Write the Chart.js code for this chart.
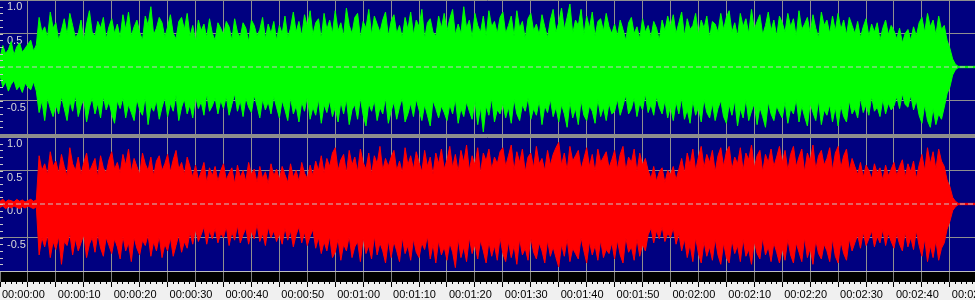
<!DOCTYPE html>
<html>
<head>
<meta charset="utf-8">
<title>Waveform</title>
<script src="https://cdn.jsdelivr.net/npm/chart.js@4.4.1/dist/chart.umd.min.js"></script>
<style>
  html, body { margin: 0; padding: 0; background: #f0f0f0; overflow: hidden; }
  #wrap { width: 975px; height: 300px; }
  canvas { display: block; }
  .panel { background: #000080; }
  .sep { height: 3px; background: #8c8c8c; }
  .ruler-edge { height: 1px; background: #c0c0c0; }
</style>
</head>
<body>
<div id="wrap">
  <canvas id="left-channel" class="panel" width="975" height="134"></canvas>
  <div class="sep"></div>
  <canvas id="right-channel" class="panel" width="975" height="134"></canvas>
  <div class="ruler-edge"></div>
  <canvas id="time-ruler" width="975" height="28"></canvas>
</div>
<script>
// one sample every half second, 0 .. 174.5 s
const SAMPLE_STEP = 0.5;
const DURATION = 174.5;

// left channel (green) peak envelope
const greenMax = [
  0.14, 0.32, 0.2, 0.26, 0.38, 0.18, 0.3, 0.36, 0.22, 0.28, 0.34, 0.4, 0.24, 0.33, 0.74, 0.52, 0.6, 0.44, 0.82, 0.58,
  0.66, 0.4, 0.55, 0.72, 0.48, 0.8, 0.62, 0.44, 0.5, 0.7, 0.38, 0.64, 0.84, 0.52, 0.46, 0.68, 0.58, 0.74, 0.42, 0.6,
  0.72, 0.5, 0.64, 0.44, 0.78, 0.56, 0.82, 0.46, 0.6, 0.7, 0.52, 0.4, 0.76, 0.62, 0.9, 0.48, 0.58, 0.74, 0.66, 0.44,
  0.6, 0.78, 0.5, 0.42, 0.68, 0.74, 0.56, 0.8, 0.46, 0.62, 0.38, 0.7, 0.54, 0.64, 0.44, 0.72, 0.5, 0.4, 0.66, 0.58,
  0.48, 0.68, 0.6, 0.4, 0.72, 0.52, 0.44, 0.66, 0.58, 0.38, 0.7, 0.62, 0.46, 0.56, 0.74, 0.42, 0.64, 0.5, 0.68, 0.4,
  0.62, 0.5, 0.76, 0.44, 0.58, 0.82, 0.52, 0.68, 0.46, 0.78, 0.6, 0.84, 0.48, 0.66, 0.72, 0.42, 0.8, 0.56, 0.7, 0.5,
  0.84, 0.54, 0.66, 0.46, 0.88, 0.62, 0.5, 0.74, 0.8, 0.44, 0.68, 0.58, 0.86, 0.48, 0.76, 0.64, 0.52, 0.7, 0.82, 0.46,
  0.68, 0.78, 0.5, 0.62, 0.44, 0.74, 0.56, 0.82, 0.48, 0.7, 0.6, 0.86, 0.42, 0.66, 0.72, 0.52, 0.46, 0.76, 0.58, 0.8,
  0.54, 0.72, 0.86, 0.48, 0.64, 0.5, 0.9, 0.58, 0.7, 0.44, 0.8, 0.62, 0.52, 0.76, 0.46, 0.84, 0.6, 0.68, 0.5, 0.74,
  0.82, 0.5, 0.62, 0.76, 0.46, 0.84, 0.58, 0.68, 0.42, 0.72, 0.8, 0.54, 0.64, 0.48, 0.78, 0.6, 0.44, 0.7, 0.86, 0.52,
  0.66, 0.88, 0.56, 0.74, 0.94, 0.5, 0.7, 0.62, 0.86, 0.48, 0.76, 0.58, 0.82, 0.46, 0.68, 0.72, 0.54, 0.8, 0.6, 0.5,
  0.64, 0.46, 0.7, 0.56, 0.4, 0.66, 0.74, 0.5, 0.6, 0.42, 0.72, 0.52, 0.62, 0.44, 0.68, 0.58, 0.4, 0.7, 0.54, 0.76,
  0.6, 0.78, 0.5, 0.66, 0.82, 0.46, 0.72, 0.56, 0.62, 0.8, 0.48, 0.7, 0.58, 0.76, 0.44, 0.68, 0.64, 0.52, 0.8, 0.56,
  0.74, 0.84, 0.52, 0.66, 0.46, 0.8, 0.6, 0.72, 0.5, 0.86, 0.56, 0.68, 0.78, 0.48, 0.62, 0.82, 0.54, 0.7, 0.46, 0.76,
  0.66, 0.52, 0.8, 0.6, 0.72, 0.46, 0.84, 0.56, 0.64, 0.74, 0.5, 0.78, 0.58, 0.44, 0.82, 0.62, 0.7, 0.5, 0.76, 0.54,
  0.8, 0.56, 0.7, 0.48, 0.74, 0.62, 0.5, 0.68, 0.44, 0.6, 0.72, 0.46, 0.64, 0.52, 0.66, 0.4, 0.58, 0.7, 0.48, 0.62,
  0.54, 0.42, 0.58, 0.36, 0.5, 0.56, 0.4, 0.6, 0.46, 0.66, 0.74, 0.52, 0.8, 0.6, 0.7, 0.48, 0.76, 0.56, 0.62, 0.4,
  0.28, 0.12, 0.04, 0.01, 0.01, 0.01, 0.01, 0.01, 0.01, 0.01
];
const greenMin = [
  -0.12, -0.3, -0.22, -0.36, -0.26, -0.2, -0.34, -0.28, -0.38, -0.24, -0.3, -0.34, -0.22, -0.36, -0.68, -0.5, -0.8, -0.46, -0.62, -0.74,
  -0.56, -0.7, -0.44, -0.62, -0.8, -0.5, -0.66, -0.42, -0.74, -0.58, -0.48, -0.82, -0.6, -0.46, -0.7, -0.54, -0.76, -0.44, -0.64, -0.52,
  -0.7, -0.84, -0.5, -0.62, -0.46, -0.76, -0.56, -0.68, -0.8, -0.48, -0.64, -0.72, -0.44, -0.86, -0.58, -0.66, -0.5, -0.78, -0.6, -0.46,
  -0.74, -0.54, -0.66, -0.42, -0.8, -0.6, -0.48, -0.7, -0.56, -0.76, -0.44, -0.62, -0.52, -0.72, -0.4, -0.66, -0.58, -0.46, -0.7, -0.5,
  -0.62, -0.44, -0.72, -0.56, -0.4, -0.66, -0.5, -0.74, -0.46, -0.6, -0.68, -0.42, -0.58, -0.76, -0.48, -0.64, -0.52, -0.7, -0.44, -0.6,
  -0.76, -0.5, -0.64, -0.8, -0.46, -0.7, -0.58, -0.82, -0.52, -0.66, -0.44, -0.78, -0.6, -0.72, -0.48, -0.84, -0.56, -0.68, -0.5, -0.74,
  -0.6, -0.82, -0.52, -0.7, -0.48, -0.86, -0.64, -0.56, -0.78, -0.46, -0.72, -0.88, -0.54, -0.66, -0.5, -0.8, -0.6, -0.7, -0.46, -0.84,
  -0.66, -0.52, -0.78, -0.6, -0.46, -0.82, -0.7, -0.54, -0.74, -0.48, -0.64, -0.8, -0.56, -0.72, -0.88, -0.5, -0.62, -0.76, -0.58, -0.68,
  -0.8, -0.56, -0.7, -0.48, -0.84, -0.62, -0.74, -0.52, -0.66, -0.78, -0.5, -0.86, -0.6, -0.97, -0.58, -0.72, -0.46, -0.82, -0.64, -0.7,
  -0.54, -0.76, -0.6, -0.84, -0.48, -0.7, -0.8, -0.56, -0.66, -0.46, -0.78, -0.62, -0.72, -0.5, -0.86, -0.58, -0.68, -0.48, -0.74, -0.6,
  -0.82, -0.56, -0.7, -0.9, -0.52, -0.76, -0.62, -0.86, -0.5, -0.72, -0.8, -0.58, -0.66, -0.84, -0.48, -0.74, -0.6, -0.8, -0.54, -0.7,
  -0.66, -0.48, -0.72, -0.58, -0.42, -0.7, -0.62, -0.46, -0.74, -0.54, -0.64, -0.4, -0.68, -0.56, -0.72, -0.44, -0.6, -0.7, -0.5, -0.76,
  -0.58, -0.8, -0.52, -0.7, -0.46, -0.78, -0.64, -0.84, -0.5, -0.72, -0.6, -0.82, -0.48, -0.68, -0.76, -0.54, -0.8, -0.62, -0.5, -0.74,
  -0.84, -0.56, -0.72, -0.5, -0.88, -0.62, -0.76, -0.48, -0.8, -0.66, -0.54, -0.86, -0.6, -0.74, -0.9, -0.52, -0.7, -0.8, -0.58, -0.68,
  -0.76, -0.52, -0.84, -0.62, -0.7, -0.48, -0.82, -0.58, -0.74, -0.88, -0.54, -0.68, -0.8, -0.5, -0.86, -0.64, -0.72, -0.56, -0.82, -0.6,
  -0.88, -0.58, -0.74, -0.82, -0.5, -0.7, -0.62, -0.76, -0.46, -0.68, -0.56, -0.72, -0.44, -0.66, -0.6, -0.74, -0.48, -0.7, -0.54, -0.64,
  -0.58, -0.44, -0.62, -0.4, -0.56, -0.6, -0.42, -0.64, -0.5, -0.72, -0.84, -0.56, -0.8, -0.9, -0.62, -0.86, -0.7, -0.78, -0.6, -0.4,
  -0.3, -0.12, -0.04, -0.01, -0.01, -0.01, -0.01, -0.01, -0.01, -0.01
];

// right channel (red) peak envelope
const redMax = [
  0.04, 0.07, 0.03, 0.06, 0.05, 0.03, 0.07, 0.04, 0.06, 0.03, 0.05, 0.07, 0.04, 0.06, 0.72, 0.5, 0.6, 0.44, 0.78, 0.56,
  0.64, 0.46, 0.74, 0.56, 0.42, 0.84, 0.6, 0.5, 0.7, 0.44, 0.62, 0.76, 0.48, 0.58, 0.68, 0.4, 0.72, 0.54, 0.46, 0.66,
  0.78, 0.52, 0.62, 0.46, 0.74, 0.58, 0.82, 0.48, 0.68, 0.56, 0.44, 0.76, 0.6, 0.5, 0.7, 0.42, 0.64, 0.72, 0.5, 0.6,
  0.74, 0.48, 0.66, 0.8, 0.52, 0.62, 0.44, 0.7, 0.56, 0.4, 0.58, 0.36, 0.48, 0.62, 0.32, 0.54, 0.42, 0.56, 0.34, 0.5,
  0.6, 0.36, 0.46, 0.54, 0.3, 0.58, 0.4, 0.5, 0.34, 0.62, 0.44, 0.52, 0.32, 0.56, 0.38, 0.48, 0.3, 0.6, 0.42, 0.52,
  0.36, 0.56, 0.44, 0.32, 0.6, 0.4, 0.5, 0.34, 0.62, 0.46, 0.38, 0.58, 0.42, 0.64, 0.5, 0.72, 0.46, 0.68, 0.56, 0.76,
  0.84, 0.5, 0.66, 0.74, 0.46, 0.8, 0.58, 0.7, 0.48, 0.82, 0.62, 0.52, 0.76, 0.44, 0.72, 0.6, 0.86, 0.5, 0.68, 0.56,
  0.7, 0.8, 0.5, 0.64, 0.46, 0.84, 0.58, 0.72, 0.52, 0.78, 0.62, 0.48, 0.8, 0.56, 0.7, 0.44, 0.76, 0.6, 0.82, 0.52,
  0.66, 0.86, 0.54, 0.74, 0.48, 0.8, 0.62, 0.88, 0.5, 0.72, 0.58, 0.84, 0.46, 0.76, 0.64, 0.82, 0.52, 0.7, 0.6, 0.78,
  0.84, 0.56, 0.72, 0.88, 0.5, 0.78, 0.62, 0.82, 0.48, 0.7, 0.76, 0.54, 0.86, 0.6, 0.68, 0.5, 0.8, 0.58, 0.74, 0.84,
  0.92, 0.58, 0.76, 0.5, 0.86, 0.64, 0.72, 0.8, 0.52, 0.68, 0.84, 0.56, 0.74, 0.48, 0.82, 0.62, 0.7, 0.78, 0.54, 0.66,
  0.8, 0.52, 0.74, 0.86, 0.5, 0.7, 0.62, 0.82, 0.48, 0.76, 0.58, 0.68, 0.5, 0.38, 0.56, 0.34, 0.48, 0.54, 0.32, 0.5,
  0.44, 0.56, 0.36, 0.52, 0.68, 0.46, 0.76, 0.58, 0.82, 0.5, 0.7, 0.86, 0.54, 0.74, 0.62, 0.8, 0.48, 0.72, 0.84, 0.56,
  0.78, 0.86, 0.52, 0.7, 0.6, 0.84, 0.5, 0.76, 0.66, 0.88, 0.54, 0.72, 0.8, 0.48, 0.74, 0.62, 0.82, 0.56, 0.7, 0.86,
  0.62, 0.8, 0.5, 0.74, 0.86, 0.56, 0.7, 0.82, 0.48, 0.76, 0.64, 0.88, 0.52, 0.72, 0.8, 0.58, 0.68, 0.84, 0.5, 0.76,
  0.86, 0.54, 0.72, 0.82, 0.5, 0.68, 0.56, 0.44, 0.62, 0.4, 0.58, 0.5, 0.38, 0.6, 0.46, 0.54, 0.36, 0.58, 0.42, 0.52,
  0.62, 0.42, 0.56, 0.66, 0.4, 0.6, 0.48, 0.64, 0.38, 0.58, 0.74, 0.5, 0.84, 0.6, 0.78, 0.52, 0.82, 0.64, 0.56, 0.36,
  0.26, 0.1, 0.04, 0.01, 0.01, 0.01, 0.01, 0.01, 0.01, 0.01
];
const redMin = [
  -0.05, -0.03, -0.07, -0.04, -0.06, -0.03, -0.05, -0.07, -0.04, -0.06, -0.03, -0.05, -0.07, -0.04, -0.76, -0.5, -0.64, -0.46, -0.8, -0.56,
  -0.68, -0.48, -0.9, -0.56, -0.62, -0.44, -0.76, -0.52, -0.7, -0.58, -0.46, -0.8, -0.6, -0.5, -0.72, -0.44, -0.66, -0.78, -0.5, -0.62,
  -0.74, -0.52, -0.64, -0.82, -0.48, -0.7, -0.58, -0.86, -0.5, -0.66, -0.76, -0.54, -0.62, -0.46, -0.78, -0.56, -0.7, -0.48, -0.8, -0.6,
  -0.7, -0.5, -0.78, -0.62, -0.46, -0.72, -0.56, -0.66, -0.42, -0.6, -0.38, -0.56, -0.46, -0.34, -0.6, -0.4, -0.52, -0.36, -0.58, -0.44,
  -0.5, -0.34, -0.62, -0.42, -0.54, -0.32, -0.58, -0.46, -0.36, -0.6, -0.4, -0.52, -0.3, -0.56, -0.44, -0.62, -0.34, -0.5, -0.4, -0.56,
  -0.44, -0.6, -0.36, -0.54, -0.4, -0.64, -0.46, -0.34, -0.58, -0.42, -0.62, -0.48, -0.38, -0.66, -0.5, -0.74, -0.56, -0.7, -0.48, -0.8,
  -0.72, -0.52, -0.84, -0.6, -0.7, -0.48, -0.8, -0.64, -0.56, -0.86, -0.5, -0.74, -0.62, -0.82, -0.48, -0.76, -0.58, -0.7, -0.88, -0.54,
  -0.8, -0.56, -0.7, -0.86, -0.5, -0.74, -0.62, -0.84, -0.52, -0.72, -0.8, -0.58, -0.68, -0.48, -0.82, -0.6, -0.88, -0.54, -0.76, -0.64,
  -0.84, -0.58, -0.72, -0.95, -0.52, -0.8, -0.64, -0.86, -0.5, -0.74, -0.6, -0.82, -0.54, -0.7, -0.88, -0.56, -0.78, -0.62, -0.84, -0.5,
  -0.74, -0.86, -0.56, -0.8, -0.62, -0.9, -0.52, -0.76, -0.66, -0.84, -0.5, -0.72, -0.82, -0.58, -0.7, -0.88, -0.54, -0.78, -0.64, -0.8,
  -0.94, -0.6, -0.78, -0.52, -0.86, -0.66, -0.74, -0.82, -0.5, -0.7, -0.88, -0.56, -0.76, -0.62, -0.84, -0.54, -0.8, -0.68, -0.74, -0.58,
  -0.82, -0.54, -0.76, -0.88, -0.5, -0.72, -0.64, -0.84, -0.52, -0.78, -0.6, -0.7, -0.46, -0.36, -0.58, -0.4, -0.52, -0.34, -0.56, -0.44,
  -0.5, -0.36, -0.6, -0.44, -0.7, -0.52, -0.8, -0.6, -0.86, -0.5, -0.74, -0.88, -0.56, -0.78, -0.64, -0.84, -0.52, -0.76, -0.9, -0.58,
  -0.8, -0.88, -0.54, -0.74, -0.62, -0.86, -0.52, -0.78, -0.68, -0.9, -0.56, -0.74, -0.82, -0.5, -0.76, -0.64, -0.86, -0.58, -0.72, -0.88,
  -0.66, -0.84, -0.52, -0.76, -0.88, -0.58, -0.72, -0.86, -0.5, -0.8, -0.66, -0.9, -0.54, -0.74, -0.82, -0.6, -0.7, -0.86, -0.52, -0.78,
  -0.88, -0.56, -0.74, -0.84, -0.52, -0.7, -0.58, -0.46, -0.66, -0.42, -0.62, -0.52, -0.4, -0.64, -0.48, -0.58, -0.38, -0.62, -0.44, -0.56,
  -0.66, -0.44, -0.6, -0.7, -0.42, -0.64, -0.5, -0.68, -0.4, -0.62, -0.78, -0.52, -0.86, -0.62, -0.8, -0.54, -0.84, -0.66, -0.58, -0.38,
  -0.26, -0.1, -0.04, -0.01, -0.01, -0.01, -0.01, -0.01, -0.01, -0.01
];

// y axis ticks of each channel, and the dashed centre line
const ampTicks = [1.0, 0.5, 0.0, -0.5];
const centreLine = [{ x: 0, y: 0 }, { x: DURATION, y: 0 }];

const toPoints = arr => arr.map((v, i) => ({ x: i * SAMPLE_STEP, y: v }));

function clock(sec) {
  const h = Math.floor(sec / 3600), m = Math.floor(sec / 60) % 60, s = Math.round(sec % 60);
  return [h, m, s].map(n => String(n).padStart(2, '0')).join(':');
}

// little marks every 0.1 on the left edge
const edgeMarks = {
  id: 'edgeMarks',
  afterDatasetsDraw(chart) {
    const ys = chart.scales.y, ctx = chart.ctx;
    ctx.save();
    ctx.strokeStyle = '#c8c8c8';
    ctx.lineWidth = 1;
    for (let i = -9; i <= 9; i++) {
      const py = Math.round(ys.getPixelForValue(i / 10)) + 0.5;
      ctx.beginPath();
      ctx.moveTo(0, py);
      ctx.lineTo(3, py);
      ctx.stroke();
    }
    ctx.restore();
  }
};

function channelChart(id, maxArr, minArr, color) {
  return new Chart(document.getElementById(id), {
    type: 'line',
    data: {
      datasets: [
        { data: centreLine, borderColor: '#c8c8c8', borderDash: [5, 3], borderWidth: 1, pointRadius: 0, order: 0 },
        { data: toPoints(maxArr), borderColor: color, backgroundColor: color, borderWidth: 1, pointRadius: 0, fill: '+1', order: 1 },
        { data: toPoints(minArr), borderColor: color, borderWidth: 1, pointRadius: 0, fill: false, order: 1 }
      ]
    },
    options: {
      responsive: false,
      animation: false,
      devicePixelRatio: 1,
      layout: { padding: 0 },
      plugins: { legend: { display: false }, tooltip: { enabled: false } },
      scales: {
        x: {
          type: 'linear', min: 0, max: DURATION,
          border: { display: false },
          ticks: { display: false, stepSize: 5, includeBounds: false },
          grid: { drawTicks: false, color: c => c.tick.value === 0 ? 'transparent' : '#8f8f8f' },
          afterFit: s => { s.height = 0; s.paddingLeft = 0; s.paddingRight = 0; }
        },
        y: {
          min: -1, max: 1,
          border: { display: false },
          afterBuildTicks: s => { s.ticks = ampTicks.map(v => ({ value: v })); },
          ticks: {
            mirror: true, padding: 7, labelOffset: 7, color: '#d8d8d8',
            font: { family: 'Liberation Sans', size: 11 },
            callback: v => v.toFixed(1)
          },
          grid: { drawTicks: false, color: c => c.tick.value === 0 ? 'transparent' : '#8f8f8f' },
          afterFit: s => { s.width = 0; s.paddingTop = 0; s.paddingBottom = 0; }
        }
      }
    },
    plugins: [edgeMarks]
  });
}

channelChart('left-channel', greenMax, greenMin, '#00ff00');
channelChart('right-channel', redMax, redMin, '#ff0000');

// time ruler: black strip with grid + ticks and hh:mm:ss labels
const blackStrip = {
  id: 'blackStrip',
  beforeDraw(chart) {
    const a = chart.chartArea;
    chart.ctx.fillStyle = '#000';
    chart.ctx.fillRect(a.left, a.top, a.width, a.height);
  }
};

new Chart(document.getElementById('time-ruler'), {
  type: 'line',
  data: { datasets: [] },
  options: {
    responsive: false,
    animation: false,
    devicePixelRatio: 1,
    layout: { padding: 0 },
    plugins: { legend: { display: false }, tooltip: { enabled: false } },
    scales: {
      y: { display: false },
      xMinor: {
        type: 'linear', position: 'bottom', weight: 0, min: 0, max: DURATION,
        border: { display: false },
        ticks: { display: false, stepSize: 1, includeBounds: false, autoSkip: false },
        grid: { drawOnChartArea: false, tickLength: 2, tickColor: '#000' },
        afterFit: s => { s.height = 0; s.paddingLeft = 0; s.paddingRight = 0; }
      },
      x: {
        type: 'linear', position: 'bottom', weight: 1, min: 0, max: DURATION,
        border: { display: false },
        ticks: {
          stepSize: 5, includeBounds: false, autoSkip: false, maxRotation: 0, minRotation: 0,
          align: 'start', labelOffset: 2, padding: 1, color: '#000',
          font: { family: 'Liberation Sans', size: 11 },
          callback: v => (v % 10 === 0 ? clock(v) : '')
        },
        grid: { color: '#808080', tickColor: '#000', tickLength: 5 },
        afterFit: s => { s.height = 18; s.paddingLeft = 0; s.paddingRight = 0; }
      }
    }
  },
  plugins: [blackStrip]
});
</script>
</body>
</html>
